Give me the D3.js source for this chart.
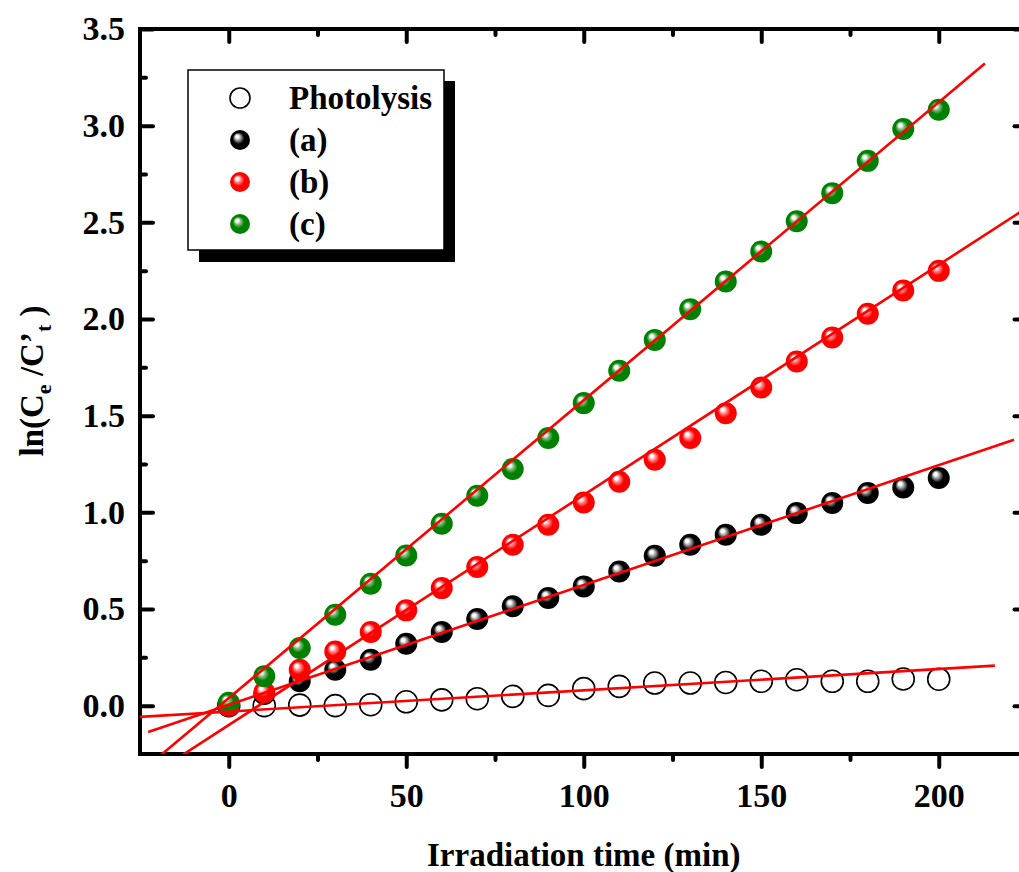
<!DOCTYPE html>
<html>
<head>
<meta charset="utf-8">
<script src="https://cdn.jsdelivr.net/npm/d3@7"></script>
<style>
  html, body { margin: 0; padding: 0; background: #fff; overflow: hidden; }
  svg { display: block; }
  text { font-family: "Liberation Serif", "Times New Roman", serif; font-weight: bold; fill: #000; }
</style>
</head>
<body>
<script>
// Irradiation time (min)
const times = [0, 10, 20, 30, 40, 50, 60, 70, 80, 90, 100, 110, 120, 130, 140, 150, 160, 170, 180, 190, 200];

// ln(Ce/C't) for each run
const photolysis = [0, 0, 0.003, 0, 0.005, 0.02, 0.03, 0.036, 0.048, 0.053, 0.088, 0.10, 0.117, 0.117, 0.12, 0.126, 0.134, 0.126, 0.126, 0.138, 0.137];
const seriesA = [0, 0.06, 0.126, 0.186, 0.238, 0.32, 0.381, 0.448, 0.514, 0.557, 0.617, 0.694, 0.775, 0.832, 0.884, 0.936, 0.996, 1.048, 1.10, 1.128, 1.178];
const seriesB = [0, 0.069, 0.186, 0.28, 0.381, 0.493, 0.608, 0.717, 0.832, 0.936, 1.051, 1.158, 1.272, 1.384, 1.513, 1.646, 1.78, 1.904, 2.027, 2.147, 2.249];
const seriesC = [0.015, 0.152, 0.298, 0.47, 0.631, 0.777, 0.941, 1.086, 1.224, 1.384, 1.565, 1.732, 1.892, 2.051, 2.194, 2.349, 2.506, 2.651, 2.818, 2.983, 3.082];

const seriesNames = ["Photolysis", "(a)", "(b)", "(c)"];

// Linear fits: ln(Ce/C't) = intercept + slope * t, drawn over [fitStart, fitEnd]
const fitIntercepts = [-0.0305, 0.004, -0.1, 0.039];
const fitSlopes = [0.0011, 0.0062, 0.0119, 0.01541];
const fitStart = [-27, -22.7, -22, -22];
const fitEnd = [215.8, 221.2, 228, 213];

// Axis ticks
const xMajorTicks = [0, 50, 100, 150, 200];
const xMinorTicks = [25, 75, 125, 175];
const yMajorTicks = [0, 0.5, 1.0, 1.5, 2.0, 2.5, 3.0, 3.5];
const yMinorTicks = [0.25, 0.75, 1.25, 1.75, 2.25, 2.75, 3.25];

const W = 1019, H = 872;
const plotLeft = 140, plotRight = 1027.5, plotTop = 29, plotBottom = 754;

const svg = d3.select("body").append("svg").attr("width", W).attr("height", H);

const x = d3.scaleLinear().domain([-25, 225]).range([plotLeft, plotRight]);
const y = d3.scaleLinear().domain([-0.25, 3.5]).range([plotBottom, plotTop]);

const defs = svg.append("defs");
defs.append("clipPath").attr("id", "plot-clip")
  .append("rect").attr("x", plotLeft).attr("y", plotTop)
  .attr("width", plotRight - plotLeft).attr("height", plotBottom - plotTop);

// Shaded sphere fills
const sphereStyles = [
  { id: "ball-a", light: "#9a9a9a", base: "#000000" },
  { id: "ball-b", light: "#ff8a8a", base: "#ff0000" },
  { id: "ball-c", light: "#7fbf7f", base: "#008000" }
];
sphereStyles.forEach(s => {
  const g = defs.append("radialGradient").attr("id", s.id)
    .attr("cx", "50%").attr("cy", "50%").attr("r", "50%")
    .attr("fx", "33%").attr("fy", "30%");
  g.append("stop").attr("offset", "0%").attr("stop-color", "#ffffff");
  g.append("stop").attr("offset", "14%").attr("stop-color", "#ffffff");
  g.append("stop").attr("offset", "32%").attr("stop-color", s.light);
  g.append("stop").attr("offset", "58%").attr("stop-color", s.base);
  g.append("stop").attr("offset", "100%").attr("stop-color", s.base);
});

const seriesValues = [photolysis, seriesA, seriesB, seriesC];
const fills = ["#ffffff", "url(#ball-a)", "url(#ball-b)", "url(#ball-c)"];
const strokes = ["#000", "none", "none", "none"];

// Axes: ticks inward on left, top, right; outward on bottom
function styleAxis(g) {
  g.select(".domain").remove();
  g.selectAll(".tick line").attr("stroke", "#000").attr("stroke-width", 4).attr("stroke-linecap", "round");
  g.selectAll(".tick text").style("font-size", "34px").style("font-family", '"Liberation Serif", "Times New Roman", serif').style("font-weight", "bold");
}

svg.append("g").attr("transform", `translate(${plotLeft},0)`)
  .call(d3.axisLeft(y).tickValues(yMajorTicks).tickSizeInner(-13).tickSizeOuter(0).tickPadding(15).tickFormat(d3.format(".1f")))
  .call(styleAxis);
svg.append("g").attr("transform", `translate(${plotLeft},0)`)
  .call(d3.axisLeft(y).tickValues(yMinorTicks).tickSizeInner(-6).tickSizeOuter(0).tickFormat(""))
  .call(styleAxis);
svg.append("g").attr("transform", `translate(${plotRight},0)`)
  .call(d3.axisRight(y).tickValues(yMajorTicks).tickSizeInner(-13).tickSizeOuter(0).tickFormat(""))
  .call(styleAxis);
svg.append("g").attr("transform", `translate(${plotRight},0)`)
  .call(d3.axisRight(y).tickValues(yMinorTicks).tickSizeInner(-6).tickSizeOuter(0).tickFormat(""))
  .call(styleAxis);

svg.append("g").attr("transform", `translate(0,${plotBottom})`)
  .call(d3.axisBottom(x).tickValues(xMajorTicks).tickSizeInner(13).tickSizeOuter(0).tickPadding(16).tickFormat(d3.format("d")))
  .call(styleAxis);
svg.append("g").attr("transform", `translate(0,${plotBottom})`)
  .call(d3.axisBottom(x).tickValues(xMinorTicks).tickSizeInner(6).tickSizeOuter(0).tickFormat(""))
  .call(styleAxis);
svg.append("g").attr("transform", `translate(0,${plotTop})`)
  .call(d3.axisTop(x).tickValues(xMajorTicks).tickSizeInner(-13).tickSizeOuter(0).tickFormat(""))
  .call(styleAxis);
svg.append("g").attr("transform", `translate(0,${plotTop})`)
  .call(d3.axisTop(x).tickValues(xMinorTicks).tickSizeInner(-6).tickSizeOuter(0).tickFormat(""))
  .call(styleAxis);

// Frame
svg.append("rect")
  .attr("x", plotLeft).attr("y", plotTop)
  .attr("width", plotRight - plotLeft).attr("height", plotBottom - plotTop)
  .attr("fill", "none").attr("stroke", "#000").attr("stroke-width", 4);

// Data markers
const markers = svg.append("g").attr("clip-path", "url(#plot-clip)");
seriesValues.forEach((vals, i) => {
  markers.append("g").selectAll("circle")
    .data(times.map((t, k) => [t, vals[k]]))
    .join("circle")
    .attr("cx", d => x(d[0]))
    .attr("cy", d => y(d[1]))
    .attr("r", 11)
    .attr("fill", fills[i])
    .attr("stroke", strokes[i])
    .attr("stroke-width", 1.6);
});

// Fit lines
const fitLine = d3.line().x(d => x(d[0])).y(d => y(d[1]));
const fits = svg.append("g").attr("clip-path", "url(#plot-clip)");
fitSlopes.forEach((b, i) => {
  const a = fitIntercepts[i];
  const pts = [fitStart[i], fitEnd[i]].map(t => [t, a + b * t]);
  fits.append("path")
    .attr("d", fitLine(pts))
    .attr("fill", "none")
    .attr("stroke", "#ff0000")
    .attr("stroke-width", 2.6);
});

// Legend
const legend = svg.append("g");
legend.append("rect").attr("x", 199).attr("y", 81).attr("width", 256).attr("height", 181).attr("fill", "#000");
legend.append("rect").attr("x", 188).attr("y", 70).attr("width", 256).attr("height", 180)
  .attr("fill", "#fff").attr("stroke", "#000").attr("stroke-width", 1.5);
seriesNames.forEach((name, i) => {
  const cy = 98 + i * 42;
  legend.append("circle").attr("cx", 240).attr("cy", cy).attr("r", 10)
    .attr("fill", fills[i]).attr("stroke", strokes[i]).attr("stroke-width", 1.6);
  legend.append("text").attr("x", 289).attr("y", cy + 11)
    .style("font-size", "33px").text(name);
});

// Axis titles
svg.append("text")
  .attr("x", (plotLeft + plotRight) / 2).attr("y", 866)
  .attr("text-anchor", "middle")
  .style("font-size", "33px")
  .text("Irradiation time (min)");

const yTitle = svg.append("text")
  .attr("transform", "translate(43,381) rotate(-90)")
  .attr("text-anchor", "middle")
  .style("font-size", "33px");
yTitle.append("tspan").text("ln(C");
yTitle.append("tspan").attr("dy", 8).style("font-size", "22px").text("e");
yTitle.append("tspan").attr("dy", -8).text(" /C\u2019");
yTitle.append("tspan").attr("dy", 8).style("font-size", "22px").text("t");
yTitle.append("tspan").attr("dy", -8).text(" )");
</script>
</body>
</html>
